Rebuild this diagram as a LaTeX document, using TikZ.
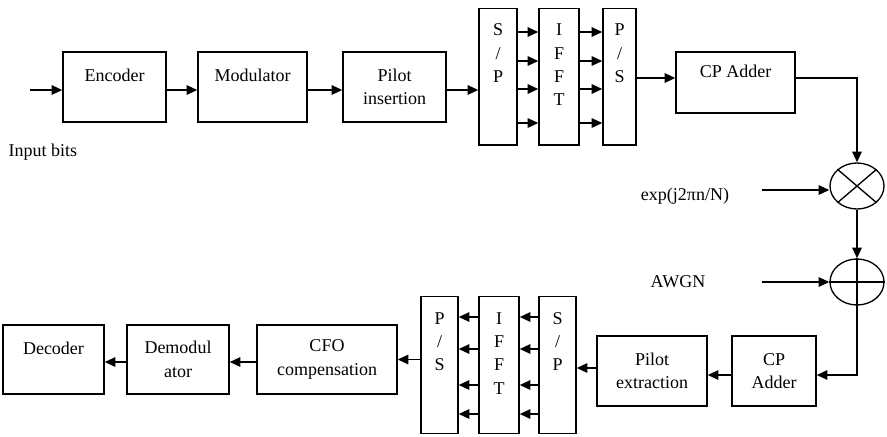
\documentclass[tikz,border=0pt]{standalone}
\usepackage{fontspec}
\setmainfont{Liberation Serif}
\usepackage{tikz}
\usetikzlibrary{arrows.meta,shapes.geometric}

\begin{document}
\begin{tikzpicture}[x=0.75pt,y=-0.75pt,
  font=\fontsize{13.5}{17.5}\selectfont,
  blk/.style={draw,line width=1pt,rectangle,align=center,inner sep=0pt},
  bar/.style={blk,minimum height=102.5pt},
  mix/.style={draw,line width=1pt,ellipse,minimum width=40.5pt,minimum height=34.5pt,inner sep=0pt},
  arr/.style={line width=1.4pt,-{Triangle[length=8pt,width=7pt]}}]
\useasboundingbox (0,0) rectangle (887,436);

% transmitter
\coordinate (in) at (30,90);
\node[blk,minimum width=77.25pt,minimum height=52.5pt] (enc) at (114.5,87) {Encoder\\~};
\node[blk,minimum width=81.75pt,minimum height=52.5pt] (mod) at (252.5,87) {Modulator\\~};
\node[blk,minimum width=77.25pt,minimum height=52.5pt] (pil) at (394.5,87) {Pilot\\insertion};
\node[bar,minimum width=28.5pt] (sp) at (498,76.5) {S\\/\\P\\~\\~};
\node[bar,minimum width=30pt] (ifft) at (559,76.5) {I\\F\\F\\T\\~};
\node[bar,minimum width=24.75pt] (ps) at (619.5,76.5) {P\\/\\S\\~\\~};
\node[blk,minimum width=89.25pt,minimum height=45.75pt] (cp) at (735.5,82.5) {CP Adder\\~};
\node[anchor=west] (bits) at (4,152) {Input bits};

% channel
\node[mix] (mul) at (857,186) {};
\draw[line width=1pt] (mul.north west) -- (mul.south east) (mul.north east) -- (mul.south west);
\node[mix] (add) at (857,282) {};
\draw[line width=1pt] (add.north) -- (add.south) (add.west) -- (add.east);
\node (expl) at (685,196) {exp(j2πn/N)};
\node (awgn) at (678,282) {AWGN};
\coordinate (ex) at (762,190);
\coordinate (aw) at (762,282);

% receiver
\node[blk,minimum width=63pt,minimum height=52.5pt] (cp2) at (774,371) {CP\\Adder};
\node[blk,minimum width=82.5pt,minimum height=52.5pt] (pe) at (652,371) {Pilot\\extraction};
\node[bar,minimum width=27.75pt] (sp2) at (557.5,365) {S\\/\\P\\~\\~};
\node[bar,minimum width=30pt] (ifft2) at (499,365) {I\\F\\F\\T\\~};
\node[bar,minimum width=27.75pt] (ps2) at (439.5,365) {P\\/\\S\\~\\~};
\node[blk,minimum width=105pt,minimum height=51.75pt] (cfo) at (327,359.5) {CFO\\compensation};
\node[blk,minimum width=76.5pt,minimum height=51.75pt] (dem) at (178,359.5) {Demodul\\ator};
\node[blk,minimum width=75.75pt,minimum height=51.75pt] (dec) at (53.5,359.5) {Decoder\\~};

% connectors
\draw[arr] (in) -- (enc.west |- in);
\draw[arr] (enc.east |- in) -- (mod.west |- in);
\draw[arr] (mod.east |- in) -- (pil.west |- in);
\draw[arr] (pil.east |- in) -- (sp.west |- in);
\foreach \y in {32,61,89,123}{
  \draw[arr] (sp.east |- 0,\y) -- (ifft.west |- 0,\y);
  \draw[arr] (ifft.east |- 0,\y) -- (ps.west |- 0,\y);
}
\draw[arr] (ps.east |- 0,78) -- (cp.west |- 0,78);
\draw[arr] (cp.east |- 0,78) -| (mul.north);
\draw[arr] (ex) -- (mul.west |- ex);
\draw[arr] (mul.south) -- (add.north);
\draw[arr] (aw) -- (add.west);
\draw[arr] (add.south) |- (cp2.east |- 0,375);
\draw[arr] (cp2.west |- 0,375) -- (pe.east |- 0,375);
\draw[arr] (pe.west |- 0,368) -- (sp2.east |- 0,368);
\foreach \y in {317,349,385,414}{
  \draw[arr] (sp2.west |- 0,\y) -- (ifft2.east |- 0,\y);
  \draw[arr] (ifft2.west |- 0,\y) -- (ps2.east |- 0,\y);
}
\draw[arr] (ps2.west |- cfo.east) -- (cfo.east);
\draw[arr] (cfo.west |- 0,362) -- (dem.east |- 0,362);
\draw[arr] (dem.west |- 0,362) -- (dec.east |- 0,362);
\end{tikzpicture}
\end{document}
